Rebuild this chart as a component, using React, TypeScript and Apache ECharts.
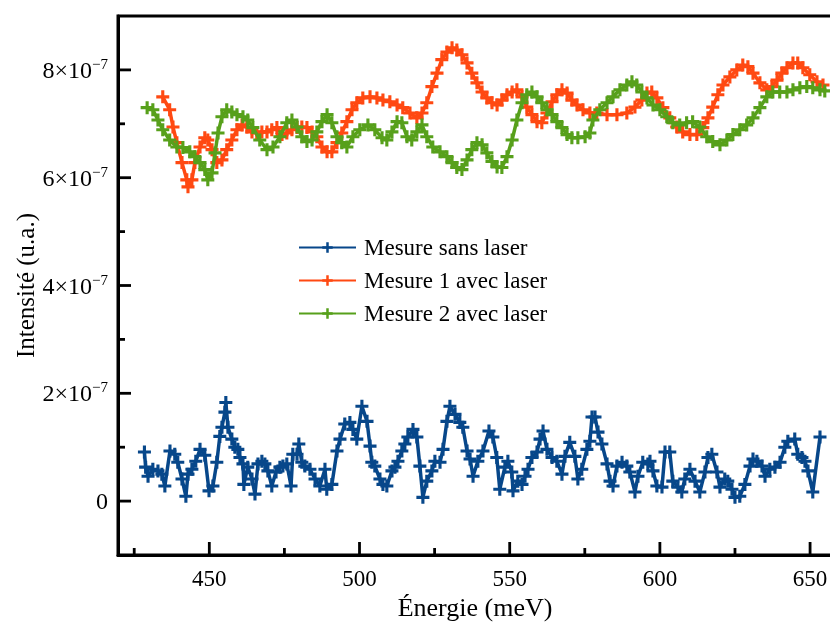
import React, { useEffect, useRef } from "react";
import * as echarts from "echarts";

// Énergie (meV) / Intensité (units of 1e-7, u.a.)
const blueX = [428.4,428.8,429.6,431.2,432.9,434.2,435.2,436.9,438.5,439.5,440.9,442.2,442.9,444.2,445.5,446.9,448.5,449.9,451.2,452.5,453.5,454.2,455.2,455.5,456.2,457.5,458.5,459.5,460.2,461.2,461.5,462.8,464.2,465.2,466.2,467.5,468.5,469.5,470.8,472.2,473.5,474.5,475.8,477.2,477.8,479.2,479.8,480.8,481.8,483.5,485.2,486.8,488.5,489.1,490.8,492.5,493.5,495.1,496.8,497.8,499.1,500.8,502.5,503.5,504.1,505.1,506.8,507.8,509.1,510.8,511.8,512.8,514.1,515.1,516.1,517.8,519.1,520.1,521.1,522.4,524.1,525.1,526.8,527.8,529.1,530.1,531.8,533.4,534.4,535.8,536.8,537.8,539.4,541.1,543.1,544.4,545.7,546.7,548.4,549.4,550.7,551.1,552.7,554.1,555.1,556.1,557.4,559.1,560.1,561.1,562.4,564.1,565.7,567.4,568.4,570.0,571.7,572.7,574.0,575.7,576.7,577.4,578.4,579.4,580.7,582.4,583.4,584.4,585.7,587.4,589.0,590.0,591.7,592.7,594.3,596.0,596.7,597.7,599.0,600.7,601.7,603.3,604.3,606.0,607.3,608.3,610.0,611.7,613.3,615.0,616.0,617.3,619.0,620.0,621.6,622.6,624.0,625.0,626.6,628.3,630.0,631.0,632.3,634.0,635.0,636.6,638.3,640.0,641.6,642.6,644.9,645.9,647.3,648.3,649.3,650.9,653.3];
const blueY = [0.91,0.63,0.46,0.59,0.56,0.50,0.28,0.93,0.87,0.72,0.41,0.09,0.50,0.59,0.74,0.96,0.85,0.19,0.28,0.72,1.20,1.37,1.65,1.83,1.37,1.15,1.00,0.96,0.81,0.69,0.31,0.63,0.41,0.13,0.69,0.74,0.69,0.56,0.28,0.54,0.63,0.65,0.69,0.28,0.87,0.87,1.06,0.72,0.65,0.59,0.41,0.28,0.59,0.22,0.31,0.93,1.15,1.43,1.46,1.33,1.15,1.76,1.48,1.02,0.72,0.65,0.41,0.31,0.28,0.56,0.63,0.74,0.93,1.06,1.19,1.33,1.19,0.65,0.07,0.37,0.56,0.74,0.72,0.96,1.48,1.76,1.61,1.46,1.37,0.93,0.78,0.46,0.74,0.93,1.30,1.19,0.81,0.22,0.63,0.74,0.54,0.19,0.37,0.31,0.46,0.59,0.81,0.91,1.15,1.30,0.96,0.81,0.74,0.50,0.83,1.09,0.83,0.41,0.59,0.96,1.11,1.56,1.56,1.28,1.06,0.69,0.37,0.28,0.65,0.72,0.65,0.54,0.17,0.46,0.72,0.69,0.74,0.56,0.28,0.26,0.91,0.91,0.37,0.26,0.17,0.41,0.59,0.37,0.17,0.54,0.81,0.87,0.54,0.26,0.41,0.37,0.22,0.07,0.09,0.31,0.65,0.78,0.74,0.65,0.46,0.59,0.63,0.72,1.00,1.11,1.15,0.87,0.81,0.74,0.56,0.17,1.19];

const orangeX = [434.5,436.8,437.9,439.2,440.9,442.5,442.9,444.2,445.2,446.9,448.5,449.5,450.9,452.5,454.2,455.8,457.5,459.2,460.9,462.5,464.2,465.8,467.5,469.2,470.8,472.5,474.2,475.8,477.5,479.2,480.8,482.5,484.2,485.8,487.5,489.2,490.8,492.5,494.1,495.8,497.5,499.1,501.1,503.5,505.8,507.8,510.1,512.5,514.4,516.8,519.1,520.8,522.4,524.1,525.8,527.4,529.1,530.8,532.4,534.1,535.8,537.4,539.1,540.8,542.4,544.1,545.8,547.4,549.1,550.8,552.4,554.1,555.7,557.4,559.1,560.7,562.4,564.1,565.7,567.4,569.1,570.7,572.4,574.4,576.7,579.0,582.4,585.7,589.0,591.7,594.0,595.7,597.3,599.0,601.0,603.3,605.6,607.6,610.0,612.3,614.3,616.0,617.6,619.3,621.0,623.3,625.6,627.6,629.3,631.0,633.3,635.6,637.3,639.0,640.6,642.3,644.3,645.9,647.6,649.9,652.3,654.3];
const orangeY = [7.50,7.26,6.94,6.65,6.28,5.96,5.83,5.96,6.28,6.57,6.74,6.70,6.52,6.28,6.33,6.52,6.70,6.89,6.98,6.94,6.85,6.83,6.85,6.85,6.89,6.93,6.80,6.83,6.89,6.93,6.94,6.93,6.85,6.76,6.57,6.48,6.48,6.65,6.83,7.04,7.26,7.39,7.48,7.50,7.48,7.44,7.41,7.35,7.30,7.20,7.11,7.20,7.39,7.69,7.94,8.19,8.33,8.41,8.37,8.28,8.13,7.94,7.76,7.59,7.48,7.39,7.35,7.44,7.54,7.59,7.63,7.50,7.31,7.17,7.04,7.02,7.20,7.41,7.54,7.63,7.57,7.44,7.35,7.26,7.20,7.20,7.17,7.17,7.20,7.31,7.44,7.57,7.59,7.48,7.30,7.11,6.94,6.85,6.80,6.80,6.93,7.11,7.31,7.54,7.72,7.87,8.00,8.09,8.06,7.94,7.76,7.63,7.69,7.81,7.94,8.04,8.13,8.13,8.04,7.91,7.78,7.72];

const greenX = [429.3,431.2,432.9,434.5,436.8,439.2,441.2,443.5,445.2,446.9,448.5,449.5,450.9,451.9,452.9,454.2,455.8,457.5,459.2,461.2,462.8,464.5,466.8,469.2,471.2,473.5,475.8,477.5,479.2,480.8,482.5,484.2,485.8,487.5,489.2,490.8,492.5,494.1,495.8,497.8,500.1,502.8,505.1,507.5,509.1,510.8,512.5,514.1,515.8,517.4,519.1,520.8,522.4,524.4,526.8,529.1,530.8,532.4,534.1,535.8,537.4,539.1,540.8,542.4,544.1,545.8,547.4,549.1,550.8,552.4,554.1,555.7,557.4,559.1,560.7,562.4,564.1,565.7,567.4,569.1,570.7,572.7,575.1,576.7,577.7,580.0,582.4,584.4,586.7,589.0,590.7,592.3,594.0,595.7,597.7,600.0,602.3,604.3,606.6,608.9,610.9,613.3,615.6,617.6,620.0,622.3,624.3,626.6,628.9,631.0,633.3,635.6,637.6,639.9,642.3,644.3,646.6,648.9,650.9,653.3,654.9];
const greenY = [7.30,7.26,7.07,6.89,6.70,6.57,6.56,6.48,6.39,6.28,6.15,5.96,6.09,6.46,6.83,7.13,7.26,7.22,7.17,7.13,7.07,6.93,6.70,6.52,6.57,6.76,7.02,7.07,6.94,6.76,6.67,6.70,6.85,7.04,7.17,7.02,6.76,6.65,6.57,6.76,6.89,6.98,6.89,6.74,6.70,6.85,7.04,7.02,6.76,6.70,6.85,6.98,6.76,6.57,6.48,6.39,6.28,6.19,6.15,6.33,6.52,6.65,6.61,6.46,6.30,6.20,6.19,6.39,6.70,7.07,7.39,7.54,7.59,7.50,7.39,7.26,7.17,7.04,6.93,6.80,6.74,6.74,6.76,6.83,7.07,7.26,7.39,7.50,7.63,7.72,7.78,7.72,7.59,7.48,7.35,7.26,7.13,7.02,6.98,7.02,7.04,6.94,6.76,6.67,6.61,6.70,6.80,6.89,6.98,7.11,7.30,7.50,7.59,7.59,7.59,7.63,7.67,7.69,7.67,7.63,7.61];

const seriesNames = ["Mesure sans laser", "Mesure 1 avec laser", "Mesure 2 avec laser"];
const seriesColors = ["#07478A", "#FF4912", "#57A01B"];
const xMajorTicks = [450, 500, 550, 600, 650];
const xMinorTicks = [425, 475, 525, 575, 625];
const yMajorTicks = [0, 2, 4, 6, 8];
const yMinorTicks = [1, 3, 5, 7];

const X_MIN = 419.6;
const X_MAX = 657.3;
const Y_MIN = -1;
const Y_MAX = 9;

const FONT = "'Liberation Serif', 'Times New Roman', serif";
const PLUS = "path://M3.8,0L6.2,0L6.2,3.8L10,3.8L10,6.2L6.2,6.2L6.2,10L3.8,10L3.8,6.2L0,6.2L0,3.8L3.8,3.8Z";

export default function App() {
  const ref = useRef<HTMLDivElement>(null);
  useEffect(() => {
    if (!ref.current) return;
    const chart = echarts.init(ref.current, null, { renderer: "svg" });
    const xs = [blueX, orangeX, greenX];
    const ys = [blueY, orangeY, greenY];
    const axisLineStyle = { color: "#000", width: 3 };

    // tick marks drawn through the axes' scales: [axis (0=x,1=y), value, length]
    const tickData: number[][] = [
      ...xMajorTicks.map((v) => [0, v, 13]),
      ...xMinorTicks.map((v) => [0, v, 7]),
      ...yMajorTicks.map((v) => [1, v, 13]),
      ...yMinorTicks.map((v) => [1, v, 7]),
    ];

    chart.setOption({
      animation: false,
      grid: {
        left: 118,
        right: -2,
        top: 16,
        bottom: 69,
        show: true,
        borderColor: "#000",
        borderWidth: 3,
        containLabel: false,
        outerBoundsMode: "none",
      },
      xAxis: {
        type: "value",
        min: X_MIN,
        max: X_MAX,
        splitLine: { show: false },
        name: "Énergie (meV)",
        nameLocation: "middle",
        nameGap: 39,
        nameMoveOverlap: false,
        nameTextStyle: { fontFamily: FONT, fontSize: 26, color: "#000" },
        axisLine: { show: true, onZero: false, lineStyle: axisLineStyle },
        axisTick: { show: false },
        axisLabel: { show: true, customValues: xMajorTicks, margin: 12, fontFamily: FONT, fontSize: 23, color: "#000" },
      },
      yAxis: {
        type: "value",
        min: Y_MIN,
        max: Y_MAX,
        splitLine: { show: false },
        name: "Intensité (u.a.)",
        nameLocation: "middle",
        nameGap: 80,
        nameMoveOverlap: false,
        nameRotate: 90,
        nameTextStyle: { fontFamily: FONT, fontSize: 25, color: "#000" },
        axisLine: { show: true, onZero: false, lineStyle: axisLineStyle },
        axisTick: { show: false },
        axisLabel: {
          show: true,
          customValues: yMajorTicks,
          margin: 10,
          color: "#000",
          fontFamily: FONT,
          fontSize: 24,
          formatter: (v: number) => (v === 0 ? "{a|0}" : `{a|${v}×10}{s|−7}`),
          rich: {
            a: { fontFamily: FONT, fontSize: 24, color: "#000" },
            s: { fontFamily: FONT, fontSize: 15, color: "#000", padding: [0, 0, 12, 0] },
          },
        },
      },
      legend: {
        orient: "vertical",
        left: 293,
        top: 231,
        itemWidth: 57,
        itemHeight: 13,
        itemGap: 10,
        data: seriesNames,
        textStyle: { fontFamily: FONT, fontSize: 23, color: "#000", padding: [0, 0, 0, 3] },
      },
      series: [
        ...seriesNames.map((name, k) => ({
          name,
          type: "line",
          data: xs[k].map((x, i) => [x, ys[k][i]]),
          symbol: PLUS,
          symbolSize: 13,
          showSymbol: true,
          showAllSymbol: true,
          lineStyle: { width: 3.5, color: seriesColors[k] },
          itemStyle: { color: seriesColors[k] },
          color: seriesColors[k],
          z: 2 + k,
        })),
        {
          name: "ticks",
          type: "custom",
          silent: true,
          clip: false,
          z: 10,
          data: tickData,
          encode: { x: -1, y: -1 },
          renderItem: (_params: any, api: any) => {
            const axis = api.value(0);
            const v = api.value(1);
            const len = api.value(2);
            if (axis === 0) {
              const p = api.coord([v, Y_MIN]);
              return {
                type: "line",
                shape: { x1: p[0], y1: p[1], x2: p[0], y2: p[1] - len },
                style: { stroke: "#000", lineWidth: 2.8 },
              };
            }
            const p = api.coord([X_MIN, v]);
            return {
              type: "line",
              shape: { x1: p[0], y1: p[1], x2: p[0] + len, y2: p[1] },
              style: { stroke: "#000", lineWidth: 2.8 },
            };
          },
        },
      ],
    });
    return () => chart.dispose();
  }, []);
  return <div ref={ref} style={{ position: "fixed", left: 0, top: 0, width: 830, height: 624 }} />;
}
